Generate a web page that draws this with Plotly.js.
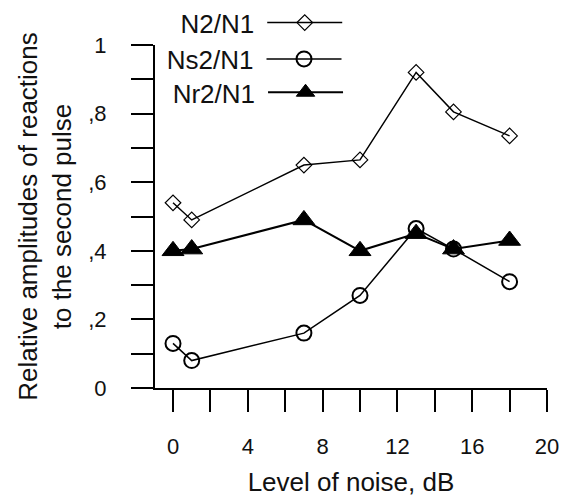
<!DOCTYPE html>
<html>
<head>
<meta charset="utf-8">
<script src="https://cdn.plot.ly/plotly-3.0.1.min.js"></script>
<style>html,body{margin:0;padding:0;background:#fff;}#chart{width:564px;height:500px;}</style>
</head>
<body>
<div id="chart"></div>
<script>
const noiseLevel = [0, 1, 7, 10, 13, 15, 18];
const seriesNames = ["N2/N1", "Ns2/N1", "Nr2/N1"];
const n2n1 = [0.54, 0.49, 0.65, 0.665, 0.92, 0.805, 0.735];
const ns2n1 = [0.13, 0.08, 0.16, 0.27, 0.465, 0.405, 0.31];
const nr2n1 = [0.40, 0.405, 0.49, 0.40, 0.45, 0.405, 0.43];
const xTickVals = [0, 2, 4, 6, 8, 10, 12, 14, 16, 18, 20];
const xTickText = ["0", "", "4", "", "8", "", "12", "", "16", "", "20"];
const yTickVals = [0, 0.1, 0.2, 0.3, 0.4, 0.5, 0.6, 0.7, 0.8, 0.9, 1];
const yTickText = ["0", "", ",2", "", ",4", "", ",6", "", ",8", "", "1"];
const xTitle = "Level of noise, dB";
const yTitle = "Relative amplitudes of reactions<br>to the second pulse";

const FONT = "'Liberation Sans', Arial, sans-serif";
const TXT = "#111";

const traces = [
  {x: noiseLevel, y: n2n1, name: "", legend: "legend", type: "scatter", mode: "lines+markers",
   line: {color: "#000", width: 1.5},
   marker: {symbol: "diamond-open", size: 12, color: "#000", line: {width: 1.2, color: "#000"}}},
  {x: noiseLevel, y: ns2n1, name: "", legend: "legend2", type: "scatter", mode: "lines+markers",
   line: {color: "#000", width: 1.5},
   marker: {symbol: "circle-open", size: 15, color: "#000", line: {width: 2, color: "#000"}}},
  {x: noiseLevel, y: nr2n1, name: "", legend: "legend3", type: "scatter", mode: "lines+markers",
   line: {color: "#000", width: 2},
   marker: {symbol: "triangle-up", size: 19, color: "#000", line: {width: 1, color: "#000"}}}
];

function legendCfg(i, x, y) {
  return {x: x, y: y, xanchor: "left", yanchor: "middle", bgcolor: "rgba(0,0,0,0)",
    font: {family: FONT, size: 26, color: TXT}, itemwidth: 75,
    title: {text: seriesNames[i], side: "left", font: {family: FONT, size: 26, color: TXT}}};
}

const layout = {
  width: 564, height: 500,
  margin: {l: 155, r: 17, t: 45, b: 112, pad: 0, autoexpand: false},
  paper_bgcolor: "#fff", plot_bgcolor: "#fff",
  font: {family: FONT, color: TXT},
  showlegend: true,
  legend: legendCfg(0, 0.06, 1.065),
  legend2: legendCfg(1, 0.025, 0.959),
  legend3: legendCfg(2, 0.04, 0.862),
  xaxis: {
    range: [-0.963, 20], showgrid: false, zeroline: false,
    showline: true, linecolor: "#000", linewidth: 2,
    ticks: "outside", ticklen: 22, tickwidth: 2, tickcolor: "#000",
    tickmode: "array", tickvals: xTickVals, ticktext: xTickText,
    tickfont: {family: FONT, size: 22, color: TXT}, ticklabelstandoff: 16,
    title: {text: xTitle, font: {family: FONT, size: 26, color: TXT}, standoff: 14}
  },
  yaxis: {
    range: [0, 1], showgrid: false, zeroline: false,
    showline: true, linecolor: "#000", linewidth: 2,
    ticks: "outside", ticklen: 22, tickwidth: 2, tickcolor: "#000",
    tickmode: "array", tickvals: yTickVals, ticktext: yTickText,
    tickfont: {family: FONT, size: 22, color: TXT}, ticklabelstandoff: 20,
    title: {text: yTitle, font: {family: FONT, size: 26, color: TXT}, standoff: 9}
  }
};

Plotly.newPlot("chart", traces, layout, {displayModeBar: false, staticPlot: true});
</script>
</body>
</html>
